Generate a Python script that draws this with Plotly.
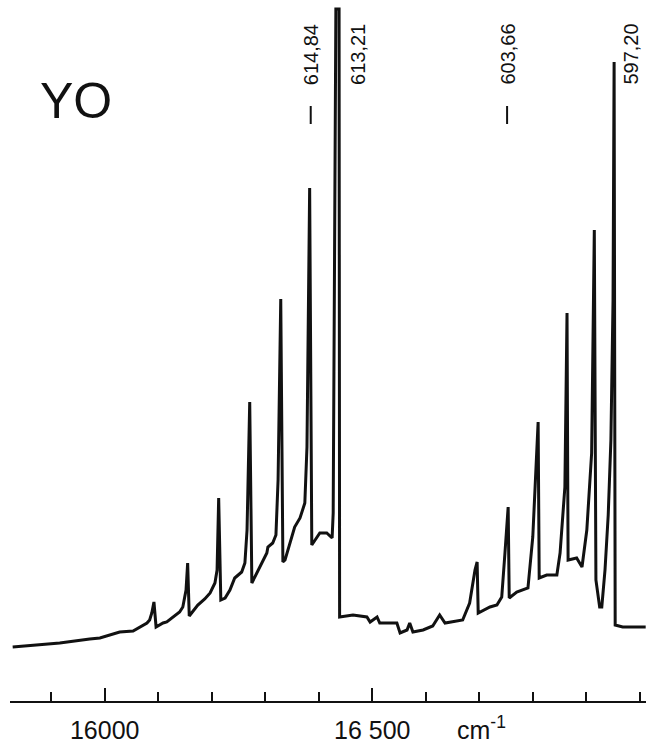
import plotly.graph_objects as go

# Spectrum of YO (wavenumber in cm^-1, relative intensity)
wavenumber = [
    15828, 15916, 15972, 15991, 16028, 16053, 16079, 16084, 16088, 16092,
    16096, 16109, 16116, 16127, 16140, 16146, 16152, 16155, 16158, 16174,
    16187, 16197, 16206, 16210, 16213, 16217, 16225, 16234, 16243, 16256,
    16262, 16266, 16271, 16275, 16284, 16290, 16303, 16305, 16314, 16320,
    16324, 16329, 16333, 16337, 16346, 16355, 16365, 16370, 16374, 16378,
    16383, 16387, 16393, 16402, 16415, 16425, 16427, 16432, 16438, 16439,
    16464, 16490, 16496, 16509, 16514, 16546, 16552, 16565, 16570, 16576,
    16595, 16613, 16626, 16636, 16669, 16682, 16692, 16696, 16698, 16720,
    16733, 16742, 16748, 16754, 16756, 16770, 16791, 16800, 16810, 16812,
    16826, 16845, 16851, 16860, 16864, 16866, 16882, 16892, 16901, 16910,
    16915, 16918, 16925, 16929, 16935, 16941, 16946, 16950, 16952, 16954,
    16968, 17011,
]
intensity = [
    54, 58, 62, 63, 69, 70, 78, 81, 88, 99,
    74, 78, 79, 84, 89, 94, 111, 138, 85, 96,
    102, 108, 118, 131, 203, 101, 103, 111, 123, 129,
    138, 171, 299, 118, 128, 134, 148, 154, 158, 166,
    221, 402, 139, 141, 158, 174, 183, 191, 198, 254,
    513, 156, 161, 168, 168, 163, 188, 692, 692, 84,
    86, 84, 79, 84, 78, 78, 68, 71, 78, 69,
    71, 75, 86, 78, 81, 98, 131, 139, 88, 94,
    96, 104, 148, 194, 103, 109, 113, 164, 279, 123,
    126, 126, 148, 214, 388, 141, 143, 134, 171, 248,
    471, 121, 94, 94, 131, 186, 261, 401, 639, 76,
    74, 74,
]

# Axis labelling
major_ticks = [16000, 16500]
major_text = ["16000", "16 500"]
unit_text = "cm<sup>-1</sup>"
species = "YO"

# Wavelength labels (nm) and the wavenumber of the line they mark
label_text = ["614,84", "613,21", "603,66", "597,20"]
label_wn = [16385, 16435, 16752, 16952]
label_marker = [True, False, True, False]

FONT = "Liberation Sans, Arial, Helvetica, sans-serif"
INK = "#111111"

fig = go.Figure()
fig.add_trace(go.Scatter(
    x=wavenumber, y=intensity, mode="lines",
    line=dict(color=INK, width=3),
    hoverinfo="skip", showlegend=False,
))

annotations = []
shapes = []
for i, (txt, wn, mk) in enumerate(zip(label_text, label_wn, label_marker)):
    shift = 1 if mk else (21 if i == 1 else 17)
    annotations.append(dict(
        x=wn, xref="x", y=(701 - 22) / 701, yref="paper", text=txt, textangle=-90,
        showarrow=False, xanchor="center", yanchor="top",
        xshift=shift,
        font=dict(family=FONT, size=20, color=INK),
    ))
    if mk:
        shapes.append(dict(
            type="line", xref="x", yref="y", x0=wn, x1=wn, y0=577, y1=595,
            line=dict(color=INK, width=2),
        ))

annotations.append(dict(
    x=(76 - 10) / 636, xref="paper", y=(701 - 101) / 701, yref="paper",
    text=species, showarrow=False, xanchor="center", yanchor="middle",
    font=dict(family=FONT, size=50, color=INK),
))
annotations.append(dict(
    x=(482 - 10) / 636, xref="paper", y=-27 / 701, yref="paper",
    text=unit_text, showarrow=False, xanchor="center", yanchor="middle",
    font=dict(family=FONT, size=25, color=INK),
))

fig.update_layout(
    width=646, height=746,
    margin=dict(l=10, r=0, t=0, b=45, pad=0),
    paper_bgcolor="white", plot_bgcolor="white",
    annotations=annotations, shapes=shapes,
    xaxis=dict(
        range=[15823, 17011.6], showgrid=False, zeroline=False,
        showline=True, linecolor=INK, linewidth=2,
        tickmode="array", tickvals=major_ticks, ticktext=major_text,
        ticks="inside", ticklen=13, tickwidth=2, tickcolor=INK,
        tickfont=dict(family=FONT, size=25, color=INK),
        ticklabelstandoff=6,
        minor=dict(tickmode="linear", tick0=15900, dtick=100, ticks="inside",
                   ticklen=9, tickwidth=2, tickcolor=INK, showgrid=False),
        automargin=False, fixedrange=True,
    ),
    yaxis=dict(range=[0, 701], visible=False, showgrid=False, zeroline=False,
               automargin=False, fixedrange=True),
)

fig.write_html(
    "out.html",
    config={"displayModeBar": False, "staticPlot": True},
    post_script="document.body.style.margin='0';document.body.style.overflow='hidden';",
)
